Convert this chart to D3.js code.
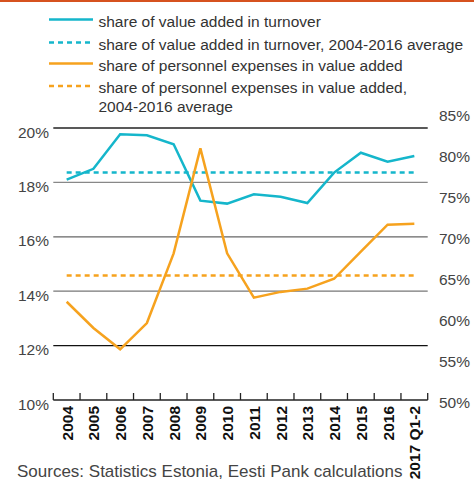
<!DOCTYPE html>
<html>
<head>
<meta charset="utf-8">
<script src="https://cdn.jsdelivr.net/npm/d3@7/dist/d3.min.js"></script>
<style>
  body { margin: 0; background: #fff; }
  text { font-family: "Liberation Sans", Arial, sans-serif; }
</style>
</head>
<body>
<div id="chart"></div>
<script>
// categories on the x axis
const years = ["2004", "2005", "2006", "2007", "2008", "2009", "2010", "2011",
  "2012", "2013", "2014", "2015", "2016", "2017 Q1-2"];

// share of value added in turnover (left axis, %)
const valueAddedShare = [18.1, 18.5, 19.77, 19.73, 19.4, 17.33, 17.22, 17.56,
  17.47, 17.24, 18.36, 19.09, 18.76, 18.97];
const valueAddedAvg = 18.36;

// share of personnel expenses in value added (right axis, %)
const personnelShare = [61.8, 58.6, 56.0, 59.2, 67.7, 80.5, 67.7, 62.3,
  63.0, 63.4, 64.6, 67.9, 71.2, 71.3];
const personnelAvg = 65.0;

const leftTicks = [10, 12, 14, 16, 18, 20];
const rightTicks = [50, 55, 60, 65, 70, 75, 80, 85];

const legendItems = [
  { label: ["share of value added in turnover"], color: "#15b6cb", dash: null },
  { label: ["share of value added in turnover, 2004-2016 average"], color: "#15b6cb", dash: "5,4" },
  { label: ["share of personnel expenses in value added"], color: "#f6a21e", dash: null },
  { label: ["share of personnel expenses in value added,", "2004-2016 average"], color: "#f6a21e", dash: "5,4" }
];

const W = 474, H = 482;
const blue = "#15b6cb", orange = "#f6a21e";

const svg = d3.select("#chart").append("svg")
  .attr("width", W).attr("height", H);

// top accent bar
svg.append("rect").attr("x", 0).attr("y", 0).attr("width", W).attr("height", 2)
  .attr("fill", "#d6521f");

const x = d3.scaleBand().domain(years).range([53.3, 427.7]);
const yL = d3.scaleLinear().domain([10, 20]).range([400, 128]);
const yR = d3.scaleLinear().domain([50, 85]).range([398.5, 111.5]);

// gridlines
const gridColors = { 12: "#111", 14: "#777", 16: "#666", 18: "#888", 20: "#222" };
svg.selectAll(".grid")
  .data(leftTicks.filter(d => d > 10))
  .enter().append("line")
  .attr("class", "grid")
  .attr("x1", 53.3).attr("x2", 427.7)
  .attr("y1", d => yL(d)).attr("y2", d => yL(d))
  .attr("stroke", d => gridColors[d])
  .attr("stroke-width", 1.3);

// bottom axis with ticks pointing up
const xAxis = svg.append("g").attr("transform", "translate(0,400)");
xAxis.append("line").attr("x1", 53.3).attr("x2", 427.7)
  .attr("stroke", "#222").attr("stroke-width", 1.3);
const tickPos = years.map(d => x(d)).concat([x.range()[1]]);
xAxis.selectAll(".tk").data(tickPos).enter().append("line")
  .attr("x1", d => d).attr("x2", d => d)
  .attr("y1", 0).attr("y2", -7)
  .attr("stroke", "#222").attr("stroke-width", 1.3);

xAxis.selectAll(".yl").data(years).enter().append("text")
  .attr("transform", d => `translate(${x(d) + x.bandwidth() / 2 + 6},6) rotate(-90)`)
  .attr("text-anchor", "end")
  .style("font-size", "15.5px")
  .style("font-weight", "bold")
  .attr("fill", "#111")
  .text(d => d);

// left axis labels
svg.selectAll(".ll").data(leftTicks).enter().append("text")
  .attr("x", 49).attr("y", d => yL(d) + 9.5)
  .attr("text-anchor", "end")
  .style("font-size", "15.5px")
  .attr("fill", "#444")
  .text(d => d + "%");

// right axis labels
svg.selectAll(".rl").data(rightTicks).enter().append("text")
  .attr("x", 439).attr("y", d => yR(d) + 9.5)
  .attr("text-anchor", "start")
  .style("font-size", "15.5px")
  .attr("fill", "#444")
  .text(d => d + "%");

const cx = d => x(d) + x.bandwidth() / 2;
const first = cx(years[0]), last = cx(years[years.length - 1]);

// average lines
svg.append("line")
  .attr("x1", first).attr("x2", last)
  .attr("y1", yL(valueAddedAvg)).attr("y2", yL(valueAddedAvg))
  .attr("stroke", blue).attr("stroke-width", 2.5).attr("stroke-dasharray", "5,4");
svg.append("line")
  .attr("x1", first).attr("x2", last)
  .attr("y1", yR(personnelAvg)).attr("y2", yR(personnelAvg))
  .attr("stroke", orange).attr("stroke-width", 2.5).attr("stroke-dasharray", "5,4");

// series lines
const lineL = d3.line().x((d, i) => cx(years[i])).y(d => yL(d));
const lineR = d3.line().x((d, i) => cx(years[i])).y(d => yR(d));

svg.append("path").datum(valueAddedShare)
  .attr("d", lineL).attr("fill", "none")
  .attr("stroke", blue).attr("stroke-width", 2.5);
svg.append("path").datum(personnelShare)
  .attr("d", lineR).attr("fill", "none")
  .attr("stroke", orange).attr("stroke-width", 2.5);

// legend
const legY = [19.5, 42.5, 63.5, 86];
const leg = svg.selectAll(".leg").data(legendItems).enter().append("g")
  .attr("transform", (d, i) => `translate(49,${legY[i]})`);
leg.append("line")
  .attr("x1", 0).attr("x2", 44).attr("y1", 0).attr("y2", 0)
  .attr("stroke", d => d.color).attr("stroke-width", 2.5)
  .attr("stroke-dasharray", d => d.dash);
leg.append("text")
  .attr("x", 49.5).attr("y", 7)
  .style("font-size", "15.5px")
  .attr("fill", "#333")
  .selectAll("tspan").data(d => d.label).enter().append("tspan")
  .attr("x", 49.5).attr("dy", (d, i) => i === 0 ? 0 : 19)
  .text(d => d);

// source note
svg.append("text")
  .attr("x", 17).attr("y", 477)
  .style("font-size", "17px")
  .attr("fill", "#444")
  .text("Sources: Statistics Estonia, Eesti Pank calculations");
</script>
</body>
</html>
